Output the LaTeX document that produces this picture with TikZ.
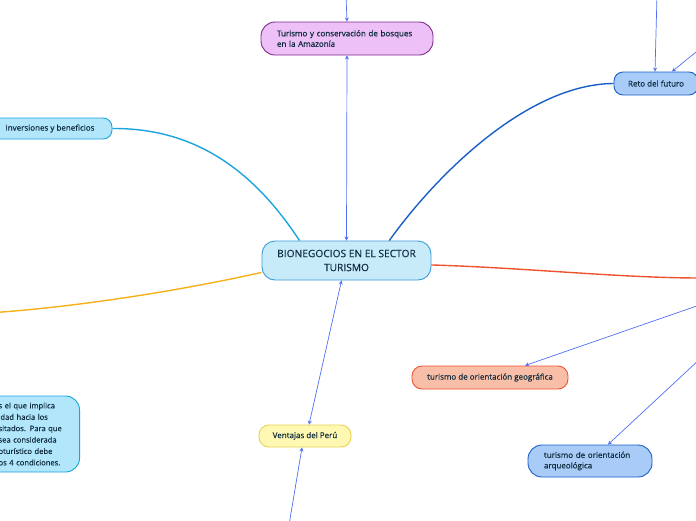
\documentclass[tikz,border=0pt]{standalone}
\usepackage{fontspec}
\setmainfont{Open Sans}[FakeBold=0.35]
\usetikzlibrary{arrows.meta}
\definecolor{txt}{HTML}{0F2C3E}
\definecolor{mainfill}{HTML}{C8EBFA}
\definecolor{mainline}{HTML}{3B9BD3}
\definecolor{purfill}{HTML}{EDC0F7}
\definecolor{purline}{HTML}{7E2A8C}
\definecolor{retofill}{HTML}{A8CBF7}
\definecolor{retoline}{HTML}{1A5FC8}
\definecolor{invfill}{HTML}{B2E6FB}
\definecolor{invline}{HTML}{1BA4DE}
\definecolor{yelfill}{HTML}{FFF8B3}
\definecolor{yelline}{HTML}{E6D250}
\definecolor{salfill}{HTML}{F8BEA8}
\definecolor{salline}{HTML}{EE5330}
\definecolor{arr}{HTML}{4F6FF5}
\definecolor{orangec}{HTML}{F7B118}
\tikzset{
  box/.style={draw, line width=0.9pt, text=txt, inner sep=0pt, font=\fontsize{8}{10.5}\selectfont},
  thin arrow/.style={draw=arr, line width=0.7pt, -{Stealth[length=4pt,width=4pt]}},
  both arrow/.style={draw=arr, line width=0.7pt, {Stealth[length=4pt,width=4pt]}-{Stealth[length=4pt,width=4pt]}},
  branch/.style={line width=1.4pt}
}
\begin{document}
\begin{tikzpicture}[x=1pt,y=-1pt]
\useasboundingbox (0,0) rectangle (696,520);
\clip (0,0) rectangle (696,520);

\node[box, fill=mainfill, draw=mainline, minimum width=169, minimum height=39, rounded corners=13, align=center, font=\fontsize{10.2}{14}\selectfont] (main) at (346.5,260.5) {BIONEGOCIOS EN EL SECTOR\\TURISMO};

\node[box, fill=purfill, draw=purline, minimum width=172, minimum height=33, rounded corners=14, text width=140, align=left] (tur) at (347,38.5) {Turismo y conservación de bosques\\en la Amazonía};

\node[box, fill=retofill, draw=retoline, minimum width=84, minimum height=23, rounded corners=9] (reto) at (656,83.5) {Reto del futuro};

\node[box, fill=invfill, draw=invline, minimum width=124, minimum height=21, rounded corners=9] (inv) at (50,128.5) {Inversiones y beneficios};

\node[box, fill=invfill, draw=invline, anchor=east, minimum height=76, rounded corners=14, text width=67, inner xsep=14, align=left, font=\fontsize{7.6}{11.4}\selectfont] (desc) at (80,434) {s el que implica\\idad hacia los\\sitados. Para que\\sea considerada\\oturístico debe\\os 4 condiciones.};

\node[box, fill=yelfill, draw=yelline, minimum width=92, minimum height=22, rounded corners=10] (vent) at (305,436) {Ventajas del Perú};

\node[box, fill=salfill, draw=salline, minimum width=156, minimum height=23, rounded corners=10] (geo) at (490,377.5) {turismo de orientación geográfica};

\node[box, fill=retofill, draw=retoline, minimum width=124, minimum height=32, rounded corners=14, text width=92, align=left] (arq) at (590,461) {turismo de orientación\\arqueológica};

\coordinate (ctop) at (346,-5);
\coordinate (rtop) at (657,-5);
\coordinate (rside) at (701,48);
\coordinate (rgeo) at (701,304.5);
\coordinate (rarq) at (701,358);
\coordinate (vbot) at (289,525);
\coordinate (lorange) at (-5,312.5);
\coordinate (rred) at (701,278);

% colored branches
\draw[branch, draw=retoline] (main.25) .. controls (440,170) and (530,84) .. (reto.west);
\draw[branch, draw=invline] (main.157) .. controls (250,165) and (190,128) .. (inv.east);
\draw[branch, draw=orangec] (main.188) .. controls (160,295) and (60,308) .. (lorange);
\draw[branch, draw=salline] (main.-3) .. controls (530,268) and (620,278) .. (rred);

% thin arrows
\draw[thin arrow] (ctop) -- (tur.north);
\draw[both arrow] (main.north) -- (tur.south);
\draw[thin arrow] (rtop) -- ([xshift=-1]reto.north);
\draw[thin arrow] (rside) -- ([xshift=16]reto.north);
\draw[both arrow] (main.256) -- ([xshift=4]vent.north);
\draw[thin arrow] (vbot) -- ([xshift=-3]vent.south);
\draw[thin arrow] (rgeo) -- ([xshift=35]geo.north);
\draw[thin arrow] (rarq) -- ([xshift=18]arq.north);
\end{tikzpicture}
\end{document}
